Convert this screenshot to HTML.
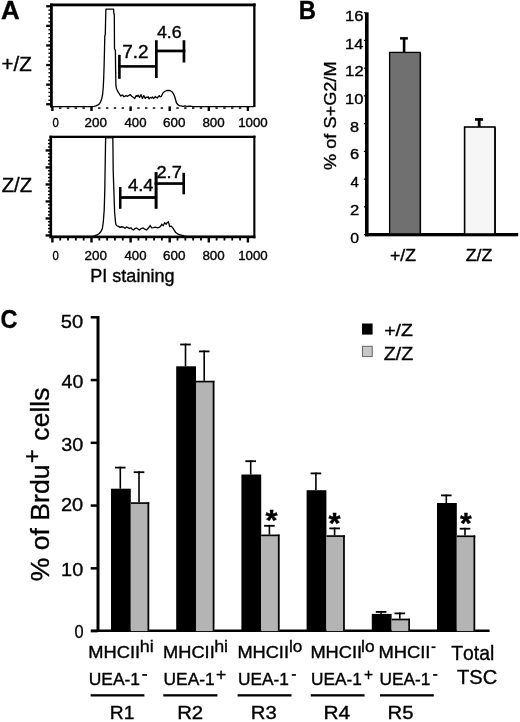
<!DOCTYPE html>
<html><head><meta charset="utf-8"><style>
html,body{margin:0;padding:0;background:#fff;}
body{width:520px;height:722px;overflow:hidden;font-family:"Liberation Sans",sans-serif;}
svg{display:block;will-change:transform;}
text{stroke:#000;stroke-width:0.35px;font-kerning:none;}
</style></head><body>
<svg width="520" height="722" viewBox="0 0 520 722" font-family="Liberation Sans, sans-serif">
<rect width="520" height="722" fill="#fff"/>
<text x="0" y="0" font-size="25.65" font-weight="bold" transform="translate(0.91 19.20) scale(1.008 1)">A</text>
<text x="0" y="0" font-size="25.65" font-weight="bold" transform="translate(298.71 19.20) scale(0.927 1)">B</text>
<text x="0" y="0" font-size="26.27" font-weight="bold" transform="translate(0.59 328.04) scale(0.894 1)">C</text>
<g fill="#000">
<rect x="50" y="3.5" width="205.6" height="2.8"/>
<rect x="50" y="3.5" width="2.8" height="104"/>
<rect x="253.2" y="3.5" width="2.3" height="103.5"/>
<rect x="46.2" y="5.10" width="5" height="2.3"/>
<rect x="48.4" y="9.42" width="3" height="1.4"/>
<rect x="48.4" y="13.34" width="3" height="1.4"/>
<rect x="48.4" y="17.26" width="3" height="1.4"/>
<rect x="48.4" y="21.18" width="3" height="1.4"/>
<rect x="46.2" y="24.70" width="5" height="2.3"/>
<rect x="48.4" y="29.02" width="3" height="1.4"/>
<rect x="48.4" y="32.94" width="3" height="1.4"/>
<rect x="48.4" y="36.86" width="3" height="1.4"/>
<rect x="48.4" y="40.78" width="3" height="1.4"/>
<rect x="46.2" y="44.30" width="5" height="2.3"/>
<rect x="48.4" y="48.62" width="3" height="1.4"/>
<rect x="48.4" y="52.54" width="3" height="1.4"/>
<rect x="48.4" y="56.46" width="3" height="1.4"/>
<rect x="48.4" y="60.38" width="3" height="1.4"/>
<rect x="46.2" y="63.90" width="5" height="2.3"/>
<rect x="48.4" y="68.22" width="3" height="1.4"/>
<rect x="48.4" y="72.14" width="3" height="1.4"/>
<rect x="48.4" y="76.06" width="3" height="1.4"/>
<rect x="48.4" y="79.98" width="3" height="1.4"/>
<rect x="46.2" y="83.50" width="5" height="2.3"/>
<rect x="48.4" y="87.82" width="3" height="1.4"/>
<rect x="48.4" y="91.74" width="3" height="1.4"/>
<rect x="48.4" y="95.66" width="3" height="1.4"/>
<rect x="48.4" y="99.58" width="3" height="1.4"/>
<rect x="46.2" y="103.10" width="5" height="2.3"/>
<rect x="51.20" y="106.4" width="2.4" height="4.6"/>
<rect x="59.02" y="107.3" width="2.4" height="1.5"/>
<rect x="66.84" y="107.3" width="2.4" height="1.5"/>
<rect x="74.66" y="107.3" width="2.4" height="1.5"/>
<rect x="82.48" y="107.3" width="2.4" height="1.5"/>
<rect x="90.30" y="106.4" width="2.4" height="4.6"/>
<rect x="98.12" y="107.3" width="2.4" height="1.5"/>
<rect x="105.94" y="107.3" width="2.4" height="1.5"/>
<rect x="113.76" y="107.3" width="2.4" height="1.5"/>
<rect x="121.58" y="107.3" width="2.4" height="1.5"/>
<rect x="129.40" y="106.4" width="2.4" height="4.6"/>
<rect x="137.22" y="107.3" width="2.4" height="1.5"/>
<rect x="145.04" y="107.3" width="2.4" height="1.5"/>
<rect x="152.86" y="107.3" width="2.4" height="1.5"/>
<rect x="160.68" y="107.3" width="2.4" height="1.5"/>
<rect x="168.50" y="106.4" width="2.4" height="4.6"/>
<rect x="176.32" y="107.3" width="2.4" height="1.5"/>
<rect x="184.14" y="107.3" width="2.4" height="1.5"/>
<rect x="191.96" y="107.3" width="2.4" height="1.5"/>
<rect x="199.78" y="107.3" width="2.4" height="1.5"/>
<rect x="207.60" y="106.4" width="2.4" height="4.6"/>
<rect x="215.42" y="107.3" width="2.4" height="1.5"/>
<rect x="223.24" y="107.3" width="2.4" height="1.5"/>
<rect x="231.06" y="107.3" width="2.4" height="1.5"/>
<rect x="238.88" y="107.3" width="2.4" height="1.5"/>
<rect x="246.70" y="106.4" width="2.4" height="4.6"/>
</g>
<path d="M51.00,106.60 L92.00,106.60 L94.00,106.30 L96.00,105.80 L98.00,104.90 L99.50,103.80 L100.60,101.80 L101.80,98.50 L102.60,94.50 L103.20,88.00 L103.70,78.00 L104.10,66.00 L104.50,50.00 L104.80,36.00 L105.30,34.50 L105.60,20.00 L105.90,9.20 L113.60,9.20 L113.80,13.50 L114.30,14.20 L114.50,48.80 L115.40,50.50 L115.60,70.00 L115.90,85.40 L116.40,88.50 L117.90,91.70 L119.80,94.60 L120.80,96.00 L121.70,95.20 L122.70,95.10 L123.60,96.60 L124.60,96.50 L126.00,95.60 L127.50,96.30 L129.00,95.40 L130.40,94.60 L131.60,96.20 L132.80,97.00 L134.70,98.50 L136.20,95.60 L137.10,96.40 L138.10,95.10 L139.50,97.50 L141.00,94.60 L142.40,98.50 L143.80,95.60 L145.30,98.50 L146.20,97.20 L147.20,97.50 L148.20,96.80 L149.10,98.90 L150.30,97.40 L151.50,98.00 L152.50,97.00 L153.50,98.50 L155.40,96.50 L156.30,97.60 L157.30,98.00 L159.20,95.60 L160.20,96.80 L161.20,96.50 L163.10,92.70 L165.00,91.25 L166.80,90.50 L168.50,90.30 L170.40,90.70 L172.20,92.00 L173.50,93.80 L174.80,97.00 L176.50,103.00 L177.80,104.60 L179.60,105.80 L181.00,105.90 L183.00,106.40 L185.00,105.90 L187.00,106.50 L190.00,106.20 L193.00,106.60 L254.00,106.60" fill="none" stroke="#000" stroke-width="1.3" stroke-linejoin="round"/>
<g fill="#000">
<rect x="118.1" y="54.8" width="2.6" height="24"/>
<rect x="118.1" y="65.1" width="38.5" height="2.6"/>
<rect x="155" y="40.2" width="2.7" height="37.8"/>
<rect x="155" y="49.6" width="30.3" height="2.7"/>
<rect x="182.6" y="40.2" width="2.7" height="22.3"/>
</g>
<text x="0" y="0" font-size="17.76" transform="translate(122.13 57.90) scale(1.066 1)">7.2</text>
<text x="0" y="0" font-size="16.10" transform="translate(156.99 37.64) scale(1.103 1)">4.6</text>
<text x="0" y="0" font-size="19.34" transform="translate(1.55 70.91) scale(1.060 1)">+/Z</text>
<text x="0" y="0" font-size="12.43" transform="translate(52.46 127.28) scale(0.909 1)">0</text>
<text x="0" y="0" font-size="12.43" transform="translate(84.52 127.28) scale(1.080 1)">200</text>
<text x="0" y="0" font-size="12.43" transform="translate(124.50 127.28) scale(1.062 1)">400</text>
<text x="0" y="0" font-size="12.43" transform="translate(163.12 127.28) scale(1.080 1)">600</text>
<text x="0" y="0" font-size="12.43" transform="translate(202.42 127.28) scale(1.075 1)">800</text>
<text x="0" y="0" font-size="12.43" transform="translate(238.14 127.28) scale(1.072 1)">1000</text>
<g fill="#000">
<rect x="49.5" y="135.7" width="206" height="2.3"/>
<rect x="49.5" y="135.7" width="2.6" height="102.5"/>
<rect x="253.3" y="135.7" width="2.1" height="102.6"/>
<rect x="49.5" y="235.6" width="205.9" height="2.6"/>
<rect x="45.6" y="234.30" width="5" height="2.3"/>
<rect x="48" y="231.30" width="2.5" height="1.4"/>
<rect x="48" y="227.90" width="2.5" height="1.4"/>
<rect x="48" y="224.50" width="2.5" height="1.4"/>
<rect x="48" y="221.10" width="2.5" height="1.4"/>
<rect x="45.6" y="217.30" width="5" height="2.3"/>
<rect x="48" y="214.30" width="2.5" height="1.4"/>
<rect x="48" y="210.90" width="2.5" height="1.4"/>
<rect x="48" y="207.50" width="2.5" height="1.4"/>
<rect x="48" y="204.10" width="2.5" height="1.4"/>
<rect x="45.6" y="200.30" width="5" height="2.3"/>
<rect x="48" y="197.30" width="2.5" height="1.4"/>
<rect x="48" y="193.90" width="2.5" height="1.4"/>
<rect x="48" y="190.50" width="2.5" height="1.4"/>
<rect x="48" y="187.10" width="2.5" height="1.4"/>
<rect x="45.6" y="183.30" width="5" height="2.3"/>
<rect x="48" y="180.30" width="2.5" height="1.4"/>
<rect x="48" y="176.90" width="2.5" height="1.4"/>
<rect x="48" y="173.50" width="2.5" height="1.4"/>
<rect x="48" y="170.10" width="2.5" height="1.4"/>
<rect x="45.6" y="166.30" width="5" height="2.3"/>
<rect x="48" y="163.30" width="2.5" height="1.4"/>
<rect x="48" y="159.90" width="2.5" height="1.4"/>
<rect x="48" y="156.50" width="2.5" height="1.4"/>
<rect x="48" y="153.10" width="2.5" height="1.4"/>
<rect x="45.6" y="149.30" width="5" height="2.3"/>
<rect x="48" y="146.30" width="2.5" height="1.4"/>
<rect x="48" y="142.90" width="2.5" height="1.4"/>
<rect x="48" y="139.50" width="2.5" height="1.4"/>
<rect x="51.20" y="236" width="2.4" height="6.5"/>
<rect x="59.32" y="236" width="1.8" height="4.5"/>
<rect x="67.14" y="236" width="1.8" height="4.5"/>
<rect x="74.96" y="236" width="1.8" height="4.5"/>
<rect x="82.78" y="236" width="1.8" height="4.5"/>
<rect x="90.30" y="236" width="2.4" height="6.5"/>
<rect x="98.42" y="236" width="1.8" height="4.5"/>
<rect x="106.24" y="236" width="1.8" height="4.5"/>
<rect x="114.06" y="236" width="1.8" height="4.5"/>
<rect x="121.88" y="236" width="1.8" height="4.5"/>
<rect x="129.40" y="236" width="2.4" height="6.5"/>
<rect x="137.52" y="236" width="1.8" height="4.5"/>
<rect x="145.34" y="236" width="1.8" height="4.5"/>
<rect x="153.16" y="236" width="1.8" height="4.5"/>
<rect x="160.98" y="236" width="1.8" height="4.5"/>
<rect x="168.50" y="236" width="2.4" height="6.5"/>
<rect x="176.62" y="236" width="1.8" height="4.5"/>
<rect x="184.44" y="236" width="1.8" height="4.5"/>
<rect x="192.26" y="236" width="1.8" height="4.5"/>
<rect x="200.08" y="236" width="1.8" height="4.5"/>
<rect x="207.60" y="236" width="2.4" height="6.5"/>
<rect x="215.72" y="236" width="1.8" height="4.5"/>
<rect x="223.54" y="236" width="1.8" height="4.5"/>
<rect x="231.36" y="236" width="1.8" height="4.5"/>
<rect x="239.18" y="236" width="1.8" height="4.5"/>
<rect x="246.70" y="236" width="2.4" height="6.5"/>
</g>
<path d="M51.00,236.30 L93.00,236.30 L95.00,235.70 L97.00,234.90 L99.00,233.70 L100.80,231.80 L102.30,228.80 L103.30,222.00 L104.20,210.00 L104.80,190.00 L105.20,165.00 L105.50,145.00 L105.70,136.50" fill="none" stroke="#000" stroke-width="1.3"/>
<path d="M112.80,136.50 L113.00,150.00 L113.20,170.00 L113.60,183.00 L114.20,200.00 L114.60,212.00 L115.40,221.00 L115.80,224.30 L117.00,225.80 L118.50,226.40 L120.00,227.40 L121.50,226.80 L123.50,227.20 L125.00,228.20 L126.50,227.00 L127.90,227.60 L129.50,228.60 L131.00,227.80 L132.20,229.20 L133.60,230.00 L135.00,228.60 L136.50,227.90 L138.00,229.00 L139.40,230.00 L141.20,228.60 L143.00,227.90 L144.80,229.20 L146.60,230.00 L148.40,228.00 L150.20,225.70 L151.70,227.90 L153.50,227.60 L155.30,227.20 L157.50,227.80 L159.60,227.20 L160.70,226.00 L161.80,224.30 L163.20,225.70 L164.70,222.80 L166.10,224.30 L167.20,222.60 L168.30,221.80 L169.00,224.00 L169.70,226.40 L171.20,226.10 L173.30,228.60 L175.50,232.20 L178.40,234.40 L181.30,235.10 L184.20,235.80 L187.00,236.30 L254.00,236.30" fill="none" stroke="#000" stroke-width="1.3"/>
<rect x="105" y="136" width="8.5" height="2.4" fill="#000"/>
<g fill="#000">
<rect x="119" y="187" width="2.5" height="21.8"/>
<rect x="119" y="196.1" width="37.5" height="2.8"/>
<rect x="154.6" y="172.1" width="3" height="36.7"/>
<rect x="154.6" y="182.2" width="30.4" height="2.7"/>
<rect x="182.4" y="172.8" width="2.6" height="21.5"/>
</g>
<text x="0" y="0" font-size="16.42" transform="translate(128.08 191.20) scale(1.110 1)">4.4</text>
<text x="0" y="0" font-size="16.33" transform="translate(156.48 177.80) scale(1.116 1)">2.7</text>
<text x="0" y="0" font-size="19.61" transform="translate(1.65 191.91) scale(1.037 1)">Z/Z</text>
<text x="0" y="0" font-size="12.43" transform="translate(52.46 259.58) scale(0.909 1)">0</text>
<text x="0" y="0" font-size="12.43" transform="translate(84.52 259.58) scale(1.080 1)">200</text>
<text x="0" y="0" font-size="12.43" transform="translate(124.50 259.58) scale(1.062 1)">400</text>
<text x="0" y="0" font-size="12.43" transform="translate(163.12 259.58) scale(1.080 1)">600</text>
<text x="0" y="0" font-size="12.43" transform="translate(202.42 259.58) scale(1.075 1)">800</text>
<text x="0" y="0" font-size="12.43" transform="translate(238.14 259.58) scale(1.072 1)">1000</text>
<text x="0" y="0" font-size="17.70" transform="translate(90.32 281.73) scale(1.018 1)">PI staining</text>
<g fill="#000">
<rect x="365" y="12.3" width="3.6" height="224"/>
<rect x="365" y="233" width="153.2" height="3.3"/>
</g>
<text x="0" y="0" font-size="14.41" transform="translate(345.08 20.71) scale(1.154 1)">16</text>
<text x="0" y="0" font-size="14.83" transform="translate(345.10 48.59) scale(1.105 1)">14</text>
<text x="0" y="0" font-size="14.61" transform="translate(345.08 76.33) scale(1.146 1)">12</text>
<text x="0" y="0" font-size="14.41" transform="translate(345.09 103.93) scale(1.149 1)">10</text>
<text x="0" y="0" font-size="14.41" transform="translate(350.10 131.67) scale(1.124 1)">8</text>
<text x="0" y="0" font-size="14.41" transform="translate(349.96 159.41) scale(1.143 1)">6</text>
<text x="0" y="0" font-size="14.83" transform="translate(350.45 187.29) scale(1.017 1)">4</text>
<text x="0" y="0" font-size="14.61" transform="translate(349.96 215.03) scale(1.142 1)">2</text>
<text x="0" y="0" font-size="14.41" transform="translate(350.18 242.63) scale(1.104 1)">0</text>
<text x="0" y="0" font-size="17.16" transform="translate(336.13 169.95) rotate(-90) scale(1.059 1)">% of S+G2/M</text>
<rect x="363.9" y="234.00" width="1.3" height="1.2" fill="#000"/>
<rect x="363.9" y="206.26" width="1.3" height="1.2" fill="#000"/>
<rect x="363.9" y="178.52" width="1.3" height="1.2" fill="#000"/>
<rect x="363.9" y="150.78" width="1.3" height="1.2" fill="#000"/>
<rect x="363.9" y="123.04" width="1.3" height="1.2" fill="#000"/>
<rect x="363.9" y="95.30" width="1.3" height="1.2" fill="#000"/>
<rect x="363.9" y="67.56" width="1.3" height="1.2" fill="#000"/>
<rect x="363.9" y="39.82" width="1.3" height="1.2" fill="#000"/>
<rect x="363.9" y="12.08" width="1.3" height="1.2" fill="#000"/>
<rect x="389.6" y="52.4" width="30.6" height="181.5" fill="#707070" stroke="#000" stroke-width="1.3"/>
<rect x="420.2" y="53" width="0.9" height="181" fill="#000"/>
<rect x="464.6" y="127" width="30.3" height="107" fill="#f6f6f6" stroke="#000" stroke-width="1.6"/>
<rect x="494.9" y="127.5" width="0.9" height="106.5" fill="#000"/>
<g fill="#000">
<rect x="402.8" y="37.5" width="2.6" height="15"/>
<rect x="400" y="37.1" width="7.9" height="2.5"/>
<rect x="477.8" y="118.5" width="2.8" height="8.5"/>
<rect x="475" y="118.1" width="8.1" height="2.7"/>
</g>
<text x="0" y="0" font-size="15.80" transform="translate(389.94 261.25) scale(1.118 1)">+/Z</text>
<text x="0" y="0" font-size="16.07" transform="translate(465.74 261.24) scale(1.105 1)">Z/Z</text>
<g fill="#000">
<rect x="96.5" y="316" width="3" height="316"/>
<rect x="91" y="629.5" width="398.6" height="2.5"/>
<rect x="90.7" y="629.85" width="7" height="2.5"/>
<rect x="90.7" y="567.09" width="7" height="2.5"/>
<rect x="90.7" y="504.33" width="7" height="2.5"/>
<rect x="90.7" y="441.57" width="7" height="2.5"/>
<rect x="90.7" y="378.81" width="7" height="2.5"/>
<rect x="90.7" y="316.05" width="7" height="2.5"/>
</g>
<text x="0" y="0" font-size="17.80" transform="translate(74.46 637.83) scale(0.917 1)">0</text>
<text x="0" y="0" font-size="18.64" transform="translate(61.08 575.82) scale(1.071 1)">10</text>
<text x="0" y="0" font-size="18.50" transform="translate(60.99 510.92) scale(1.083 1)">20</text>
<text x="0" y="0" font-size="18.36" transform="translate(61.25 450.72) scale(1.079 1)">30</text>
<text x="0" y="0" font-size="18.79" transform="translate(61.55 387.62) scale(1.039 1)">40</text>
<text x="0" y="0" font-size="19.21" transform="translate(60.84 327.81) scale(1.051 1)">50</text>
<text x="0" y="0" font-size="25.87" transform="translate(49.05 581.25) rotate(-90) scale(1.028 1)">% of Brdu</text>
<text x="0" y="0" font-size="25.87" transform="translate(49.05 440.63) rotate(-90) scale(1.026 1)">cells</text>
<text x="0" y="0" font-size="23.91" transform="translate(40.00 463.17) rotate(-90) scale(0.998 1)">+</text>
<rect x="362" y="323.5" width="10.6" height="11.1" fill="#000"/>
<rect x="362.5" y="346.3" width="9.7" height="10.3" fill="#c8c8c8" stroke="#666" stroke-width="1"/>
<text x="0" y="0" font-size="16.82" transform="translate(384.20 336.19) scale(1.161 1)">+/Z</text>
<text x="0" y="0" font-size="18.18" transform="translate(383.77 359.67) scale(1.084 1)">Z/Z</text>
<rect x="111.00" y="488.70" width="19.8" height="142.40" fill="#000"/>
<rect x="130.80" y="502.30" width="18.40" height="128.80" fill="#b4b4b4"/>
<rect x="130.80" y="502.30" width="18.40" height="1.6" fill="#000"/>
<rect x="147.50" y="502.30" width="1.7" height="128.80" fill="#000"/>
<rect x="119.50" y="466.70" width="1.6" height="22.00" fill="#000"/>
<rect x="115.00" y="466.70" width="10.6" height="1.8" fill="#000"/>
<rect x="138.20" y="471.30" width="1.6" height="31.00" fill="#000"/>
<rect x="133.70" y="471.30" width="10.6" height="1.8" fill="#000"/>
<rect x="176.20" y="366.30" width="19.8" height="264.80" fill="#000"/>
<rect x="196.00" y="380.80" width="18.40" height="250.30" fill="#b4b4b4"/>
<rect x="196.00" y="380.80" width="18.40" height="1.6" fill="#000"/>
<rect x="212.70" y="380.80" width="1.7" height="250.30" fill="#000"/>
<rect x="184.70" y="343.60" width="1.6" height="22.70" fill="#000"/>
<rect x="180.20" y="343.60" width="10.6" height="1.8" fill="#000"/>
<rect x="203.40" y="350.50" width="1.6" height="30.30" fill="#000"/>
<rect x="198.90" y="350.50" width="10.6" height="1.8" fill="#000"/>
<rect x="241.40" y="474.50" width="19.8" height="156.60" fill="#000"/>
<rect x="261.20" y="534.60" width="18.40" height="96.50" fill="#b4b4b4"/>
<rect x="261.20" y="534.60" width="18.40" height="1.6" fill="#000"/>
<rect x="277.90" y="534.60" width="1.7" height="96.50" fill="#000"/>
<rect x="249.90" y="460.30" width="1.6" height="14.20" fill="#000"/>
<rect x="245.40" y="460.30" width="10.6" height="1.8" fill="#000"/>
<rect x="268.60" y="524.90" width="1.6" height="9.70" fill="#000"/>
<rect x="264.10" y="524.90" width="10.6" height="1.8" fill="#000"/>
<text x="0" y="0" font-size="28.76" font-weight="bold" transform="translate(265.51 530.39) scale(1.074 1)">*</text>
<rect x="306.60" y="490.20" width="19.8" height="140.90" fill="#000"/>
<rect x="326.40" y="535.30" width="18.40" height="95.80" fill="#b4b4b4"/>
<rect x="326.40" y="535.30" width="18.40" height="1.6" fill="#000"/>
<rect x="343.10" y="535.30" width="1.7" height="95.80" fill="#000"/>
<rect x="315.10" y="472.50" width="1.6" height="17.70" fill="#000"/>
<rect x="310.60" y="472.50" width="10.6" height="1.8" fill="#000"/>
<rect x="333.80" y="527.50" width="1.6" height="7.80" fill="#000"/>
<rect x="329.30" y="527.50" width="10.6" height="1.8" fill="#000"/>
<text x="0" y="0" font-size="29.70" font-weight="bold" transform="translate(328.61 532.73) scale(1.040 1)">*</text>
<rect x="371.80" y="613.90" width="19.8" height="17.20" fill="#000"/>
<rect x="391.60" y="618.70" width="18.40" height="12.40" fill="#b4b4b4"/>
<rect x="391.60" y="618.70" width="18.40" height="1.6" fill="#000"/>
<rect x="408.30" y="618.70" width="1.7" height="12.40" fill="#000"/>
<rect x="380.30" y="611.00" width="1.6" height="2.90" fill="#000"/>
<rect x="375.80" y="611.00" width="10.6" height="1.8" fill="#000"/>
<rect x="399.00" y="612.50" width="1.6" height="6.20" fill="#000"/>
<rect x="394.50" y="612.50" width="10.6" height="1.8" fill="#000"/>
<rect x="437.00" y="503.00" width="19.8" height="128.10" fill="#000"/>
<rect x="456.80" y="535.50" width="18.40" height="95.60" fill="#b4b4b4"/>
<rect x="456.80" y="535.50" width="18.40" height="1.6" fill="#000"/>
<rect x="473.50" y="535.50" width="1.7" height="95.60" fill="#000"/>
<rect x="445.50" y="494.50" width="1.6" height="8.50" fill="#000"/>
<rect x="441.00" y="494.50" width="10.6" height="1.8" fill="#000"/>
<rect x="464.20" y="527.80" width="1.6" height="7.70" fill="#000"/>
<rect x="459.70" y="527.80" width="10.6" height="1.8" fill="#000"/>
<text x="0" y="0" font-size="30.37" font-weight="bold" transform="translate(460.11 533.19) scale(0.991 1)">*</text>
<text x="0" y="0" font-size="16.24" transform="translate(88.20 658.24) scale(1.128 1)">MHCII</text>
<text x="0" y="0" font-size="17.11" transform="translate(139.76 651.80) scale(1.047 1)">hi</text>
<text x="0" y="0" font-size="16.48" transform="translate(88.65 685.44) scale(1.059 1)">UEA-1</text>
<rect x="142.20" y="674.1" width="4.80" height="1.7" fill="#000"/>
<rect x="90.60" y="694.2" width="53.80" height="2.3" fill="#000"/>
<text x="0" y="0" font-size="18.75" transform="translate(109.82 718.80) scale(1.027 1)">R1</text>
<text x="0" y="0" font-size="16.24" transform="translate(163.10 658.24) scale(1.123 1)">MHCII</text>
<text x="0" y="0" font-size="17.11" transform="translate(214.16 651.80) scale(1.047 1)">hi</text>
<text x="0" y="0" font-size="16.48" transform="translate(163.56 685.44) scale(1.052 1)">UEA-1</text>
<text x="0" y="0" font-size="15.74" transform="translate(216.05 679.78) scale(1.112 1)">+</text>
<rect x="163.30" y="694.2" width="54.10" height="2.3" fill="#000"/>
<text x="0" y="0" font-size="18.47" transform="translate(177.13 718.80) scale(1.105 1)">R2</text>
<text x="0" y="0" font-size="16.24" transform="translate(237.41 658.24) scale(1.121 1)">MHCII</text>
<text x="0" y="0" font-size="16.89" transform="translate(288.94 651.64) scale(1.018 1)">lo</text>
<text x="0" y="0" font-size="16.48" transform="translate(237.96 685.44) scale(1.050 1)">UEA-1</text>
<rect x="291.80" y="674.1" width="4.10" height="1.7" fill="#000"/>
<rect x="237.60" y="694.2" width="53.90" height="2.3" fill="#000"/>
<text x="0" y="0" font-size="18.22" transform="translate(250.83 718.62) scale(1.115 1)">R3</text>
<text x="0" y="0" font-size="16.24" transform="translate(310.40 658.24) scale(1.123 1)">MHCII</text>
<text x="0" y="0" font-size="16.89" transform="translate(361.03 651.64) scale(1.027 1)">lo</text>
<text x="0" y="0" font-size="16.48" transform="translate(311.07 685.44) scale(1.048 1)">UEA-1</text>
<text x="0" y="0" font-size="15.74" transform="translate(363.95 679.78) scale(0.981 1)">+</text>
<rect x="310.80" y="694.2" width="53.80" height="2.3" fill="#000"/>
<text x="0" y="0" font-size="18.75" transform="translate(323.48 718.80) scale(1.115 1)">R4</text>
<text x="0" y="0" font-size="16.24" transform="translate(378.39 658.24) scale(1.132 1)">MHCII</text>
<rect x="431.50" y="646.4" width="4.00" height="1.7" fill="#000"/>
<text x="0" y="0" font-size="16.48" transform="translate(379.57 685.44) scale(1.048 1)">UEA-1</text>
<rect x="433.10" y="674.1" width="4.30" height="1.7" fill="#000"/>
<rect x="380.00" y="694.2" width="53.80" height="2.3" fill="#000"/>
<text x="0" y="0" font-size="18.49" transform="translate(387.54 718.62) scale(1.097 1)">R5</text>
<text x="0" y="0" font-size="20.29" transform="translate(451.27 660.40) scale(0.954 1)">Total</text>
<text x="0" y="0" font-size="19.42" transform="translate(457.05 684.16) scale(1.035 1)">TSC</text>
</svg>
</body></html>
